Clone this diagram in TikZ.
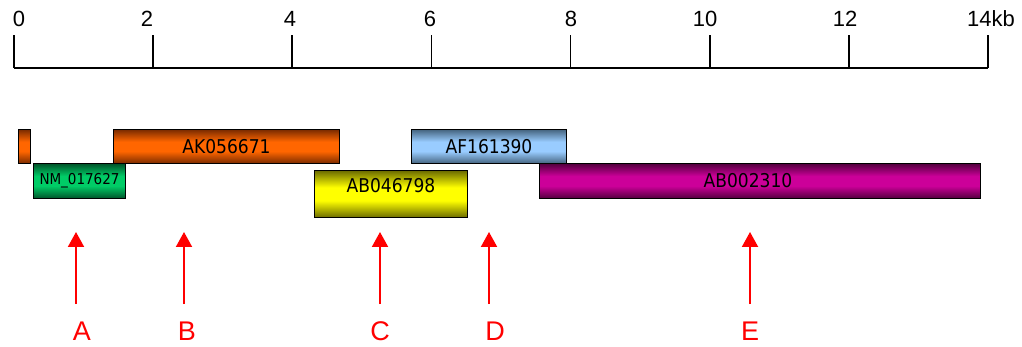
\documentclass[tikz,border=0pt]{standalone}
\usepackage{fontspec}
\setmainfont{Liberation Sans}
\newfontfamily\barfont{DejaVu Sans Condensed}
\usetikzlibrary{arrows.meta}
\definecolor{orB}{HTML}{FF6600}\definecolor{orD}{HTML}{7A2B00}
\definecolor{grB}{HTML}{00CC66}\definecolor{grD}{HTML}{005229}
\definecolor{yeB}{HTML}{FFFF00}\definecolor{yeD}{HTML}{6B6B00}
\definecolor{blB}{HTML}{99CCFF}\definecolor{blD}{HTML}{45647F}
\definecolor{mgB}{HTML}{CC0099}\definecolor{mgD}{HTML}{52003D}
\definecolor{arrred}{HTML}{FF0000}
\pgfdeclareverticalshading{orshade}{100bp}{color(0bp)=(orD); color(25bp)=(orD); color(43bp)=(orB); color(57bp)=(orB); color(75bp)=(orD); color(100bp)=(orD)}
\pgfdeclareverticalshading{grshade}{100bp}{color(0bp)=(grD); color(25bp)=(grD); color(43bp)=(grB); color(57bp)=(grB); color(75bp)=(grD); color(100bp)=(grD)}
\pgfdeclareverticalshading{yeshade}{100bp}{color(0bp)=(yeD); color(25bp)=(yeD); color(43bp)=(yeB); color(57bp)=(yeB); color(75bp)=(yeD); color(100bp)=(yeD)}
\pgfdeclareverticalshading{blshade}{100bp}{color(0bp)=(blD); color(25bp)=(blD); color(43bp)=(blB); color(57bp)=(blB); color(75bp)=(blD); color(100bp)=(blD)}
\pgfdeclareverticalshading{mgshade}{100bp}{color(0bp)=(mgD); color(25bp)=(mgD); color(43bp)=(mgB); color(57bp)=(mgB); color(75bp)=(mgD); color(100bp)=(mgD)}
\tikzset{
  axis/.style={line width=1.6pt, black},
  ticklab/.style={font=\fontsize{22}{24}\selectfont, anchor=base, inner sep=0pt},
  bar/.style={draw=black, line width=1.5pt, rectangle, inner sep=0pt, font=\barfont\fontsize{19}{21}\selectfont},
  orangebar/.style={bar, shading=orshade},
  greenbar/.style={bar, shading=grshade},
  yellowbar/.style={bar, shading=yeshade},
  bluebar/.style={bar, shading=blshade},
  magentabar/.style={bar, shading=mgshade},
  redarrow/.style={draw=arrred, line width=2pt, -{Triangle[width=16pt,length=15pt]}},
  letter/.style={text=arrred, font=\fontsize{27}{29}\selectfont, inner sep=0pt}
}
\begin{document}
\begin{tikzpicture}[x=1pt,y=-1pt]
\useasboundingbox (0,0) rectangle (1022,347);
% axis
\coordinate (axL) at (14,68);
\coordinate (axR) at (988,68);
\draw[axis] (axL) -- (axR);
\foreach \k in {0,...,7}{
  \coordinate (t\k) at ({14+139.14*\k},68);
  \draw[axis] (t\k) -- ++(0,-33);
}
\node[ticklab] (l0) at (19,27) {0};
\node[ticklab] (l2) at (147,27) {2};
\node[ticklab] (l4) at (290,27) {4};
\node[ticklab] (l6) at (430,27) {6};
\node[ticklab] (l8) at (571,27) {8};
\node[ticklab] (l10) at (705,27) {10};
\node[ticklab] (l12) at (845,27) {12};
\node[ticklab] (l14) at (991,27) {14kb};
% bars
\node[orangebar, minimum width=12pt, minimum height=34pt] (b0) at (24.5,146.5) {};
\node[orangebar, minimum width=226pt, minimum height=34pt] (ak) at (226.5,146.5) {AK056671};
\node[greenbar, minimum width=92pt, minimum height=35pt, font=\barfont\fontsize{15}{17}\selectfont] (nm) at (79.5,181) {NM\_017627};
\node[yellowbar, minimum width=153pt, minimum height=47pt, text height=14pt, text depth=17pt] (ab1) at (391,194) {AB046798};
\node[bluebar, minimum width=155pt, minimum height=34pt] (af) at (489,146.5) {AF161390};
\node[magentabar, minimum width=441pt, minimum height=35pt] (ab2) at (760,181) {};
\node[inner sep=0pt, font=\barfont\fontsize{19}{21}\selectfont] (ab2t) at (748,181) {AB002310};
% arrows
\foreach \n/\ax/\lx in {A/76/82, B/184/187, C/380/380, D/489/495, E/750/750}{
  \coordinate (s\n) at (\ax,304);
  \coordinate (h\n) at (\ax,232);
  \draw[redarrow] (s\n) -- (h\n);
  \node[letter] (lab\n) at (\lx,331) {\n};
}
\end{tikzpicture}
\end{document}
